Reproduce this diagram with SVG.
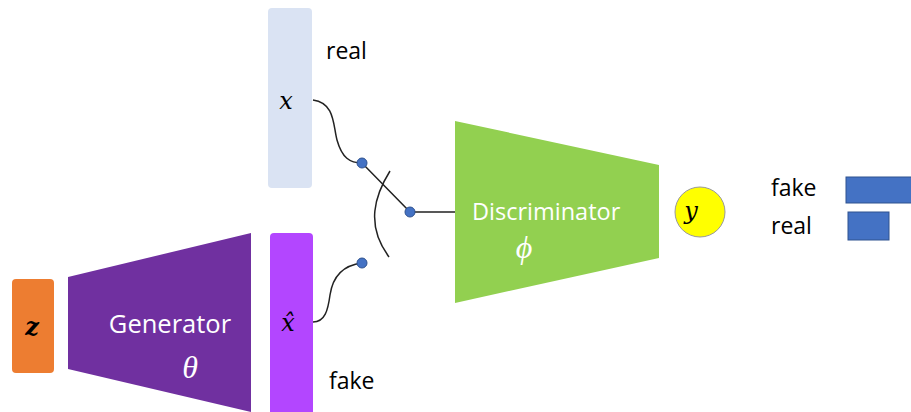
<svg xmlns="http://www.w3.org/2000/svg" width="911" height="412" viewBox="0 0 911 412">
<style>
.lbl{font-family:"Open Sans","Liberation Sans",sans-serif;font-size:23px;fill:#000}
.wlbl{font-family:"Open Sans","Liberation Sans",sans-serif;fill:#fff}
.math{font-family:"DejaVu Serif","Liberation Serif",serif;font-style:italic;fill:#000}
.wire{fill:none;stroke:#222;stroke-width:1.5}
.dot{fill:#4472c4;stroke:#2f528f;stroke-width:1}
</style>
<rect width="911" height="412" fill="#fff"/>
<g id="z">
<rect x="12" y="279" width="42" height="94" rx="4" fill="#ed7d31"/>
<text class="math" x="32" y="335" text-anchor="middle" style="font-size:24px;font-weight:bold">z</text>
</g>
<g id="generator">
<polygon points="68,277 251,233 251,412 68,369" fill="#7030a0"/>
<text class="wlbl" x="170" y="333" text-anchor="middle" style="font-size:25.5px">Generator</text>
<text class="math" x="190" y="378" text-anchor="middle" style="fill:#fff;font-size:32px;font-family:'Liberation Serif',serif">θ</text>
</g>
<g id="x">
<rect x="268" y="8" width="44" height="180" rx="4" fill="#dae3f3"/>
<text class="math" x="286" y="109" text-anchor="middle" style="font-size:24px">x</text>
<text class="lbl" x="326" y="59">real</text>
</g>
<g id="xhat">
<rect x="270" y="233" width="43" height="185" rx="4" fill="#b346ff"/>
<text class="math" x="288" y="331" text-anchor="middle" style="font-size:24px">x̂</text>
<text class="lbl" x="329" y="389">fake</text>
</g>
<g id="discriminator">
<polygon points="455,121 659,165 659,258 455,303" fill="#92d050"/>
<text class="wlbl" x="472" y="220" style="font-size:23.5px">Discriminator</text>
<text class="math" x="524" y="258" text-anchor="middle" style="fill:#fff;font-size:32px;font-family:'Liberation Serif',serif">ϕ</text>
</g>
<g id="y">
<circle cx="700" cy="212" r="25" fill="#ffff00" stroke="#999" stroke-width="1"/>
<text class="math" x="691" y="219" text-anchor="middle" style="font-size:24px">y</text>
</g>
<g id="legend">
<text class="lbl" x="771" y="196">fake</text>
<text class="lbl" x="771" y="234">real</text>
<rect x="846" y="177" width="70" height="26" fill="#4472c4" stroke="#2f528f" stroke-width="1"/>
<rect x="848" y="212" width="41" height="28" fill="#4472c4" stroke="#2f528f" stroke-width="1"/>
</g>
<g id="connectors">
<path class="wire" d="M313,100 C335,103 333,125 337,140 C342,158 350,163 362,163"/>
<path class="wire" d="M313,322 C325,322 328,310 330,295 C333,275 345,265 362,263"/>
<path class="wire" d="M362,163 L410,212 L455,212"/>
<path class="wire" d="M390,171 C375,195 365,225 389,257"/>
<circle class="dot" cx="362" cy="163" r="5"/>
<circle class="dot" cx="410" cy="212" r="5"/>
<circle class="dot" cx="362" cy="263" r="5"/>
</g>
</svg>
